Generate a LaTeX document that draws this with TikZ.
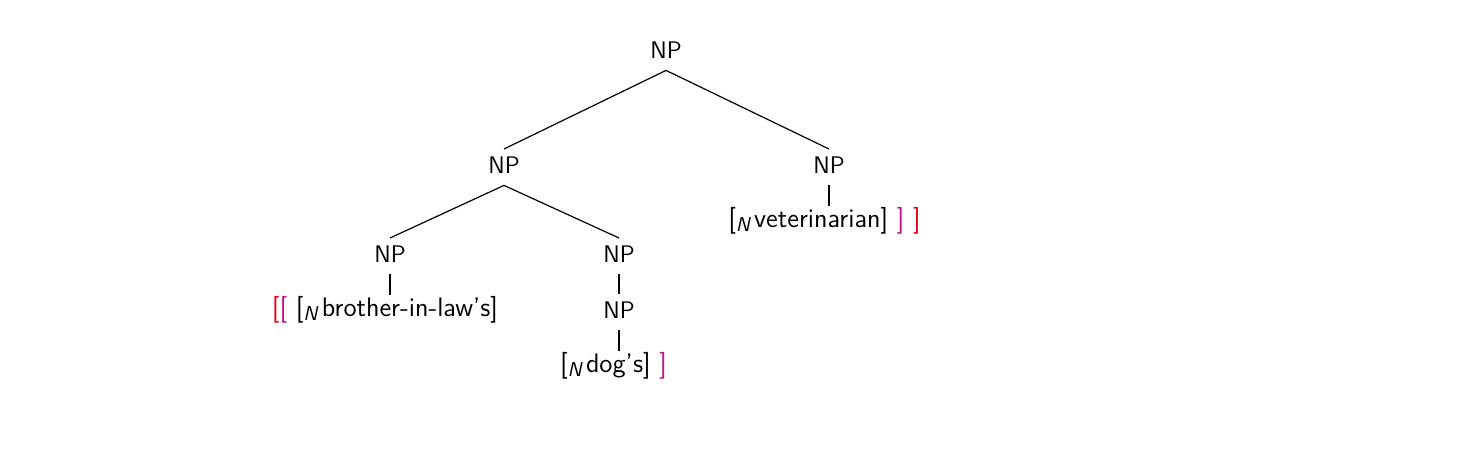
\documentclass[tikz,border=0pt]{standalone}
\usepackage{fontspec}
\definecolor{bred}{RGB}{228,0,25}
\definecolor{bmag}{RGB}{190,20,135}
\newcommand{\Nsub}{\raisebox{-0.4ex}{\fontsize{10}{10}\selectfont\textit{N}}\hspace{0.12em}}
\begin{document}
\begin{tikzpicture}[x=0.5pt,y=-0.5pt,
  cat/.style={font=\sffamily\fontsize{12}{14}\selectfont, inner sep=2pt, text height=9.8pt, text depth=4pt, anchor=base},
  leaf/.style={font=\sffamily\fontsize{13.4}{15}\selectfont, inner sep=0.5pt, text height=10pt, text depth=3.4pt, anchor=base},
  edge/.style={draw=black, line width=0.6pt}]
\useasboundingbox (0,0) rectangle (1477,456);
\node[cat] (root) at (666,58) {NP};
\node[cat] (l) at (504,173) {NP};
\node[cat] (r) at (829,173) {NP};
\node[leaf] (vet) at (824.5,227) {[\Nsub veterinarian] \textcolor{bmag}{]} \textcolor{bred}{]}};
\node[cat] (ll) at (390,262) {NP};
\node[cat] (lr) at (619,262) {NP};
\node[leaf] (bro) at (385,316) {\textcolor{bred}{[}\textcolor{bmag}{[} [\Nsub brother-in-law's]};
\node[cat] (lrn) at (619,318) {NP};
\node[leaf] (dog) at (613.5,372) {[\Nsub dog's] \textcolor{bmag}{]}};
\draw[edge] (root.south) -- (l.north);
\draw[edge] (root.south) -- (r.north);
\draw[edge] (l.south) -- (ll.north);
\draw[edge] (l.south) -- (lr.north);
\draw[edge] (r.south) -- (r.south |- vet.north);
\draw[edge] (ll.south) -- (ll.south |- bro.north);
\draw[edge] (lr.south) -- (lrn.north);
\draw[edge] (lrn.south) -- (lrn.south |- dog.north);
\end{tikzpicture}
\end{document}
